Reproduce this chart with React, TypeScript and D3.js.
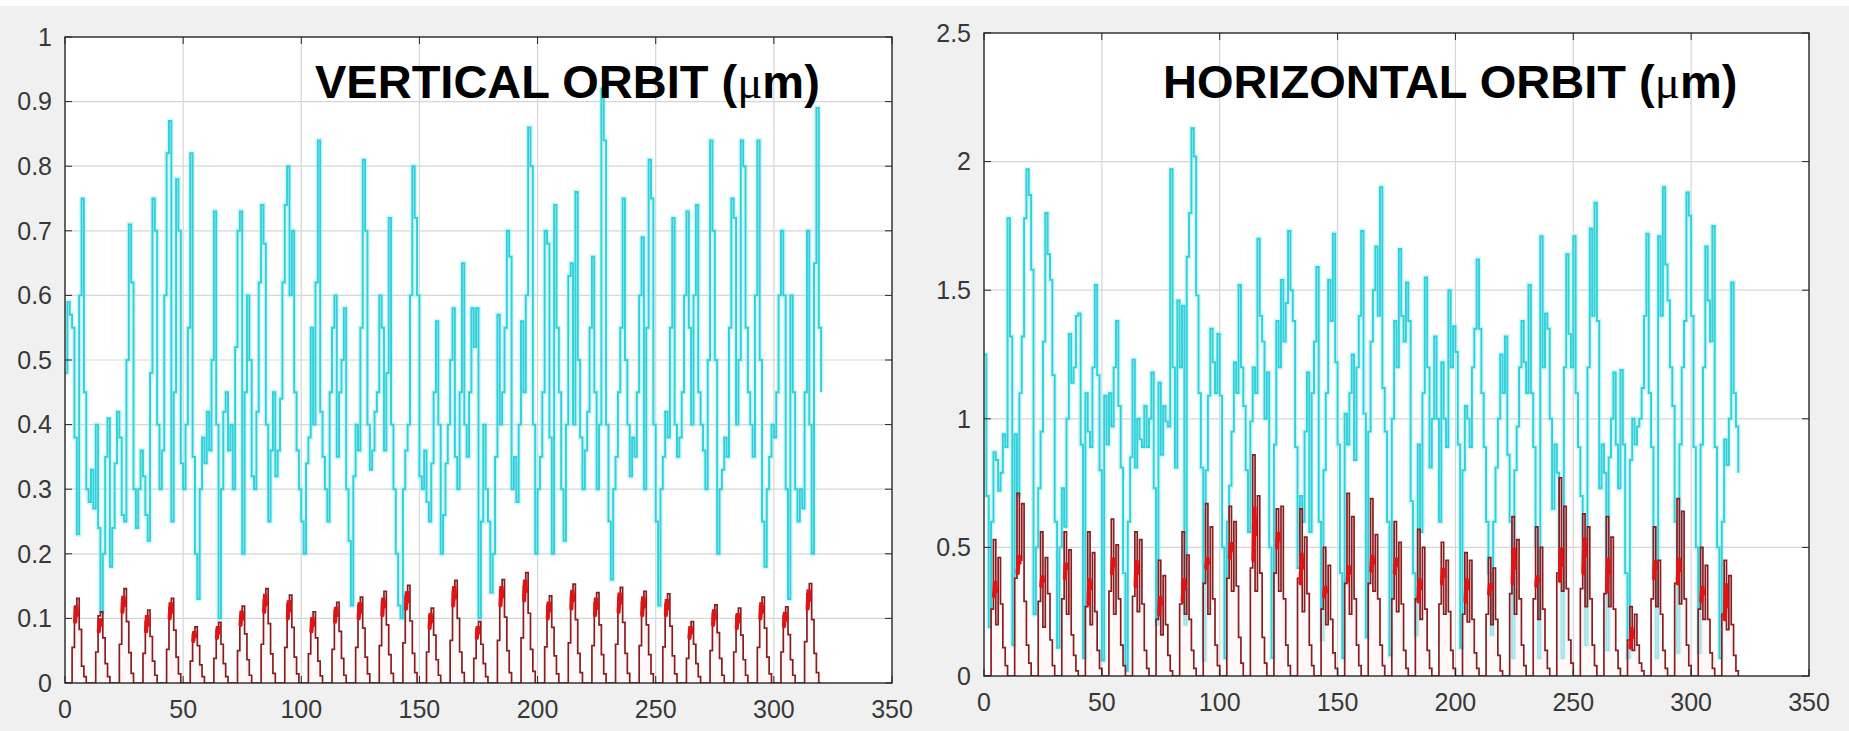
import * as React from "react"
import * as d3 from "d3"

// cyan trace, one value per sample (0..320)
const vCyan: number[] = [
  0.48, 0.59, 0.57, 0.55, 0.38, 0.23, 0.60, 0.75, 0.45, 0.30,
  0.28, 0.33, 0.27, 0.40, 0.24, 0.11, 0.20, 0.35, 0.41, 0.18,
  0.24, 0.34, 0.42, 0.38, 0.26, 0.25, 0.50, 0.71, 0.62, 0.30,
  0.24, 0.30, 0.36, 0.32, 0.26, 0.22, 0.48, 0.75, 0.70, 0.40,
  0.30, 0.36, 0.60, 0.82, 0.87, 0.25, 0.45, 0.78, 0.70, 0.34,
  0.30, 0.40, 0.55, 0.82, 0.35, 0.20, 0.13, 0.30, 0.38, 0.34,
  0.42, 0.36, 0.50, 0.73, 0.40, 0.10, 0.30, 0.42, 0.45, 0.36,
  0.40, 0.30, 0.52, 0.70, 0.73, 0.20, 0.45, 0.60, 0.50, 0.32,
  0.30, 0.42, 0.62, 0.74, 0.68, 0.40, 0.25, 0.36, 0.45, 0.32,
  0.36, 0.44, 0.62, 0.74, 0.80, 0.60, 0.70, 0.45, 0.36, 0.30,
  0.25, 0.20, 0.34, 0.38, 0.55, 0.40, 0.62, 0.84, 0.42, 0.35,
  0.30, 0.25, 0.45, 0.55, 0.60, 0.35, 0.45, 0.50, 0.58, 0.30,
  0.22, 0.12, 0.32, 0.40, 0.36, 0.55, 0.81, 0.70, 0.40, 0.33,
  0.36, 0.42, 0.45, 0.60, 0.55, 0.36, 0.48, 0.72, 0.40, 0.30,
  0.20, 0.12, 0.10, 0.30, 0.36, 0.40, 0.60, 0.80, 0.72, 0.60,
  0.32, 0.30, 0.36, 0.28, 0.25, 0.34, 0.45, 0.56, 0.40, 0.20,
  0.26, 0.34, 0.40, 0.50, 0.58, 0.35, 0.30, 0.45, 0.65, 0.40,
  0.35, 0.45, 0.58, 0.52, 0.58, 0.10, 0.25, 0.40, 0.30, 0.25,
  0.14, 0.20, 0.35, 0.57, 0.40, 0.45, 0.55, 0.70, 0.66, 0.30,
  0.35, 0.28, 0.40, 0.56, 0.45, 0.60, 0.86, 0.80, 0.40, 0.20,
  0.30, 0.35, 0.45, 0.70, 0.68, 0.38, 0.20, 0.74, 0.55, 0.45,
  0.30, 0.22, 0.40, 0.63, 0.65, 0.40, 0.76, 0.50, 0.38, 0.30,
  0.36, 0.42, 0.55, 0.66, 0.45, 0.30, 0.40, 0.92, 0.84, 0.40,
  0.25, 0.16, 0.30, 0.35, 0.45, 0.55, 0.75, 0.50, 0.40, 0.32,
  0.38, 0.35, 0.45, 0.60, 0.69, 0.30, 0.55, 0.81, 0.75, 0.40,
  0.25, 0.12, 0.30, 0.35, 0.42, 0.38, 0.55, 0.72, 0.40, 0.35,
  0.38, 0.45, 0.60, 0.73, 0.55, 0.40, 0.60, 0.74, 0.45, 0.40,
  0.36, 0.30, 0.50, 0.84, 0.70, 0.50, 0.20, 0.30, 0.33, 0.38,
  0.35, 0.55, 0.75, 0.72, 0.40, 0.50, 0.84, 0.80, 0.55, 0.45,
  0.40, 0.35, 0.60, 0.84, 0.50, 0.25, 0.18, 0.30, 0.35, 0.40,
  0.38, 0.45, 0.60, 0.70, 0.60, 0.30, 0.13, 0.60, 0.45, 0.30,
  0.25, 0.30, 0.27, 0.45, 0.70, 0.40, 0.20, 0.65, 0.89, 0.55,
  0.45,
]

const hCyan: number[] = [
  1.25, 0.70, 0.19, 0.60, 0.87, 0.84, 0.72, 0.79, 0.94, 0.89,
  1.78, 1.32, 0.12, 0.94, 0.70, 1.10, 1.32, 1.78, 1.97, 1.87,
  1.58, 0.24, 0.50, 0.73, 0.95, 1.30, 1.80, 1.64, 1.54, 1.17,
  0.60, 0.11, 0.50, 0.73, 0.58, 1.00, 1.33, 1.14, 1.20, 1.40,
  1.41, 0.90, 0.07, 1.10, 0.95, 0.89, 1.20, 1.52, 1.17, 0.80,
  0.06, 1.09, 0.90, 1.10, 0.97, 1.20, 1.38, 1.05, 0.81, 0.40,
  0.02, 0.60, 0.85, 1.23, 0.81, 1.00, 0.92, 0.89, 1.05, 0.89,
  1.00, 1.18, 0.73, 0.20, 1.14, 0.86, 1.05, 0.99, 0.97, 1.97,
  1.20, 0.81, 1.46, 1.20, 1.44, 0.20, 1.63, 1.80, 2.13, 2.02,
  1.48, 1.10, 0.81, 0.06, 0.80, 1.09, 1.35, 1.22, 1.10, 1.33,
  1.09, 0.50, 0.07, 0.60, 0.74, 0.95, 1.22, 1.10, 1.52, 1.20,
  1.05, 0.80, 0.56, 0.99, 1.20, 1.10, 1.70, 1.40, 1.30, 1.00,
  1.18, 0.50, 0.07, 0.90, 1.38, 1.20, 1.54, 1.30, 1.45, 1.73,
  1.50, 1.38, 0.89, 0.42, 0.70, 0.60, 0.95, 1.18, 0.56, 1.10,
  1.30, 1.59, 0.60, 0.14, 0.80, 1.10, 1.54, 1.38, 1.72, 1.22,
  0.90, 0.40, 0.07, 1.02, 0.90, 1.10, 1.25, 0.84, 1.20, 1.40,
  1.73, 1.02, 0.15, 0.95, 1.30, 1.50, 1.67, 1.40, 1.90, 1.12,
  0.95, 0.60, 0.08, 1.00, 1.38, 1.20, 1.66, 1.40, 1.30, 1.53,
  1.38, 0.68, 0.40, 0.16, 0.90, 0.56, 1.10, 1.55, 1.20, 0.81,
  1.00, 1.32, 1.00, 0.60, 1.22, 1.00, 0.89, 1.50, 1.20, 1.36,
  1.26, 0.90, 0.11, 0.80, 1.05, 1.00, 0.89, 1.20, 1.35, 1.62,
  1.35, 1.10, 0.89, 0.60, 0.40, 0.16, 0.60, 0.81, 1.00, 1.25,
  1.10, 1.32, 0.86, 0.60, 0.07, 0.80, 0.97, 1.20, 1.38, 1.22,
  1.10, 1.52, 1.10, 0.89, 0.50, 0.07, 1.71, 1.20, 1.41, 1.35,
  1.00, 0.65, 0.90, 0.79, 0.40, 0.07, 1.20, 1.64, 1.33, 1.20,
  1.71, 1.10, 0.89, 0.70, 0.40, 0.12, 1.20, 1.74, 1.40, 1.84,
  1.38, 0.73, 0.90, 0.79, 0.10, 0.85, 1.00, 1.18, 0.90, 0.73,
  1.19, 0.90, 0.40, 0.07, 0.84, 1.00, 0.90, 0.97, 1.00, 1.12,
  1.40, 1.72, 1.10, 0.89, 0.40, 0.07, 1.71, 1.40, 1.90, 1.60,
  1.46, 1.20, 1.05, 0.60, 0.09, 0.90, 1.20, 1.38, 1.88, 1.79,
  1.40, 0.89, 0.50, 0.09, 0.90, 1.20, 1.67, 1.46, 1.30, 1.75,
  0.89, 0.50, 0.07, 0.60, 0.92, 0.82, 1.00, 1.53, 1.10, 0.97,
  0.79,
]

// first sample of each red burst
const burstStarts: number[] = [
  3, 13, 23, 33, 43, 53, 63, 73, 83, 93, 103, 113, 123, 133, 143, 153,
  163, 173, 183, 193, 203, 213, 223, 233, 243, 253, 263, 273, 283, 293, 303, 313,
]

// dark red stairs, consecutive samples of each burst
const vRedBursts: number[][] = [
  [0.055, 0.118, 0.131, 0.083, 0.026, 0.010],
  [0.048, 0.104, 0.110, 0.070, 0.030, 0.010],
  [0.060, 0.130, 0.146, 0.095, 0.047, 0.015],
  [0.046, 0.096, 0.113, 0.072, 0.034, 0.012],
  [0.052, 0.116, 0.131, 0.082, 0.040, 0.014],
  [0.034, 0.076, 0.087, 0.058, 0.028, 0.010],
  [0.038, 0.082, 0.094, 0.060, 0.030, 0.010],
  [0.050, 0.104, 0.119, 0.076, 0.036, 0.012],
  [0.060, 0.128, 0.146, 0.092, 0.045, 0.015],
  [0.055, 0.122, 0.136, 0.086, 0.040, 0.014],
  [0.045, 0.098, 0.110, 0.070, 0.034, 0.011],
  [0.052, 0.112, 0.125, 0.080, 0.038, 0.012],
  [0.055, 0.120, 0.133, 0.085, 0.040, 0.014],
  [0.058, 0.126, 0.142, 0.090, 0.044, 0.015],
  [0.062, 0.134, 0.151, 0.096, 0.046, 0.016],
  [0.048, 0.104, 0.116, 0.074, 0.036, 0.012],
  [0.066, 0.142, 0.159, 0.100, 0.048, 0.016],
  [0.038, 0.084, 0.095, 0.060, 0.030, 0.010],
  [0.066, 0.144, 0.160, 0.102, 0.050, 0.016],
  [0.070, 0.150, 0.171, 0.108, 0.052, 0.018],
  [0.056, 0.120, 0.135, 0.086, 0.042, 0.014],
  [0.062, 0.136, 0.153, 0.098, 0.046, 0.016],
  [0.058, 0.124, 0.140, 0.090, 0.044, 0.014],
  [0.060, 0.132, 0.148, 0.094, 0.046, 0.015],
  [0.058, 0.126, 0.142, 0.090, 0.044, 0.014],
  [0.056, 0.122, 0.138, 0.088, 0.042, 0.014],
  [0.038, 0.084, 0.095, 0.060, 0.030, 0.010],
  [0.050, 0.108, 0.121, 0.078, 0.038, 0.012],
  [0.048, 0.104, 0.116, 0.074, 0.036, 0.012],
  [0.055, 0.118, 0.133, 0.085, 0.040, 0.014],
  [0.048, 0.105, 0.118, 0.075, 0.036, 0.012],
  [0.064, 0.138, 0.154, 0.098, 0.046, 0.016],
]

// bright red core of each burst
const vRedCore: number[][] = [
  [0.095, 0.120, 0.105], [0.080, 0.100, 0.090], [0.110, 0.135, 0.120], [0.080, 0.105, 0.090],
  [0.100, 0.125, 0.110], [0.065, 0.080, 0.072], [0.070, 0.088, 0.078], [0.090, 0.112, 0.100],
  [0.110, 0.138, 0.122], [0.100, 0.128, 0.112], [0.080, 0.102, 0.090], [0.095, 0.118, 0.105],
  [0.100, 0.125, 0.110], [0.105, 0.132, 0.118], [0.115, 0.142, 0.126], [0.085, 0.108, 0.095],
  [0.120, 0.150, 0.132], [0.070, 0.088, 0.078], [0.120, 0.150, 0.134], [0.128, 0.160, 0.142],
  [0.100, 0.126, 0.112], [0.115, 0.144, 0.128], [0.105, 0.132, 0.116], [0.110, 0.140, 0.124],
  [0.105, 0.134, 0.118], [0.105, 0.130, 0.115], [0.070, 0.088, 0.078], [0.090, 0.114, 0.100],
  [0.085, 0.108, 0.095], [0.100, 0.125, 0.110], [0.088, 0.110, 0.098], [0.115, 0.145, 0.128],
]

const hRedBursts: number[][] = [
  [0.26, 0.53, 0.20, 0.46, 0.28, 0.11, 0.04],
  [0.38, 0.71, 0.45, 0.67, 0.29, 0.12, 0.05],
  [0.29, 0.56, 0.19, 0.46, 0.32, 0.14, 0.04],
  [0.30, 0.56, 0.24, 0.49, 0.16, 0.08, 0.02],
  [0.27, 0.56, 0.20, 0.48, 0.25, 0.10, 0.03],
  [0.33, 0.61, 0.24, 0.51, 0.30, 0.12, 0.04],
  [0.31, 0.56, 0.25, 0.53, 0.28, 0.10, 0.03],
  [0.22, 0.45, 0.16, 0.39, 0.20, 0.08, 0.02],
  [0.28, 0.56, 0.24, 0.47, 0.22, 0.10, 0.03],
  [0.36, 0.67, 0.24, 0.58, 0.30, 0.12, 0.04],
  [0.38, 0.66, 0.33, 0.60, 0.35, 0.15, 0.05],
  [0.42, 0.86, 0.33, 0.70, 0.40, 0.15, 0.05],
  [0.40, 0.65, 0.33, 0.66, 0.30, 0.12, 0.04],
  [0.38, 0.65, 0.25, 0.54, 0.32, 0.12, 0.04],
  [0.26, 0.50, 0.20, 0.43, 0.22, 0.09, 0.03],
  [0.36, 0.71, 0.24, 0.62, 0.30, 0.12, 0.04],
  [0.36, 0.69, 0.33, 0.55, 0.30, 0.12, 0.04],
  [0.30, 0.60, 0.25, 0.52, 0.28, 0.10, 0.03],
  [0.30, 0.57, 0.22, 0.50, 0.26, 0.10, 0.03],
  [0.28, 0.52, 0.24, 0.45, 0.25, 0.10, 0.03],
  [0.24, 0.48, 0.21, 0.45, 0.22, 0.09, 0.03],
  [0.24, 0.46, 0.20, 0.42, 0.22, 0.08, 0.02],
  [0.32, 0.62, 0.24, 0.53, 0.30, 0.12, 0.04],
  [0.30, 0.58, 0.22, 0.50, 0.26, 0.10, 0.03],
  [0.40, 0.77, 0.33, 0.66, 0.34, 0.14, 0.05],
  [0.34, 0.63, 0.27, 0.58, 0.30, 0.12, 0.04],
  [0.32, 0.62, 0.27, 0.54, 0.26, 0.10, 0.03],
  [0.14, 0.27, 0.10, 0.24, 0.12, 0.05, 0.02],
  [0.30, 0.58, 0.27, 0.45, 0.24, 0.10, 0.03],
  [0.36, 0.69, 0.28, 0.64, 0.30, 0.12, 0.04],
  [0.26, 0.50, 0.22, 0.43, 0.22, 0.09, 0.03],
  [0.24, 0.45, 0.18, 0.39, 0.20, 0.08, 0.02],
]

const hRedCore: number[][] = [
  [0.31, 0.37, 0.33], [0.40, 0.47, 0.44], [0.35, 0.39, 0.37], [0.38, 0.44, 0.42],
  [0.28, 0.38, 0.34], [0.40, 0.46, 0.43], [0.35, 0.45, 0.40], [0.24, 0.31, 0.28],
  [0.29, 0.38, 0.34], [0.42, 0.46, 0.44], [0.46, 0.52, 0.49], [0.45, 0.66, 0.55],
  [0.50, 0.56, 0.53], [0.36, 0.48, 0.42], [0.31, 0.35, 0.33], [0.37, 0.43, 0.40],
  [0.41, 0.47, 0.44], [0.40, 0.46, 0.43], [0.29, 0.38, 0.34], [0.36, 0.42, 0.39],
  [0.29, 0.38, 0.34], [0.32, 0.36, 0.34], [0.36, 0.50, 0.42], [0.35, 0.39, 0.37],
  [0.37, 0.50, 0.43], [0.40, 0.54, 0.47], [0.33, 0.46, 0.40], [0.11, 0.19, 0.15],
  [0.38, 0.45, 0.42], [0.36, 0.46, 0.41], [0.29, 0.35, 0.32], [0.22, 0.36, 0.27],
]

const coreOffsets = [1.3, 1.7, 2.1]
const xTicks = [0, 50, 100, 150, 200, 250, 300, 350]
const vYTicks = [0, 0.1, 0.2, 0.3, 0.4, 0.5, 0.6, 0.7, 0.8, 0.9, 1]
const hYTicks = [0, 0.5, 1, 1.5, 2, 2.5]

interface PanelProps {
  readonly id: string
  readonly left: number
  readonly right: number
  readonly top: number
  readonly bottom: number
  readonly yMax: number
  readonly yTicks: number[]
  readonly cyan: number[]
  readonly redBursts: number[][]
  readonly redCore: number[][]
  readonly title: string
  readonly titleX: number
}

type Pt = [number, number]

class OrbitPanel extends React.Component<PanelProps, {}> {
  g: SVGGElement | null = null

  componentDidMount(): void {
    this.renderChart()
  }

  renderChart = (): void => {
    const p = this.props
    const g = d3.select(this.g)
    g.selectAll("*").remove()

    const x = d3.scaleLinear().domain([0, 350]).range([p.left, p.right])
    const y = d3.scaleLinear().domain([0, p.yMax]).range([p.bottom, p.top])

    g.append("rect")
      .attr("x", p.left).attr("y", p.top)
      .attr("width", p.right - p.left).attr("height", p.bottom - p.top)
      .attr("fill", "#fff")

    // grid
    g.selectAll(".gx").data(xTicks.slice(1, -1)).enter().append("line")
      .attr("x1", d => x(d)).attr("x2", d => x(d))
      .attr("y1", p.top).attr("y2", p.bottom)
      .attr("stroke", "#d6d6d6").attr("stroke-width", 1.2)
    g.selectAll(".gy").data(p.yTicks.slice(1, -1)).enter().append("line")
      .attr("x1", p.left).attr("x2", p.right)
      .attr("y1", d => y(d)).attr("y2", d => y(d))
      .attr("stroke", "#d6d6d6").attr("stroke-width", 1.2)

    g.append("clipPath").attr("id", "clip-" + p.id)
      .append("rect")
      .attr("x", p.left).attr("y", p.top)
      .attr("width", p.right - p.left).attr("height", p.bottom - p.top)

    const plot = g.append("g").attr("clip-path", "url(#clip-" + p.id + ")")

    const stairs = d3.line<Pt>()
      .x(d => x(d[0])).y(d => y(d[1]))
      .curve(d3.curveStepAfter)

    const cyanPts: Pt[] = p.cyan.map((v, i) => [i, v])
    plot.append("path").attr("d", stairs(cyanPts))
      .attr("fill", "none").attr("stroke", "#b5f1f5")
      .attr("stroke-width", 5).attr("stroke-opacity", 0.55)
    plot.append("path").attr("d", stairs(cyanPts))
      .attr("fill", "none").attr("stroke", "#2fd0da")
      .attr("stroke-width", 1.9)

    // red stairs built from bursts
    const red: number[] = p.cyan.map(() => 0)
    p.redBursts.forEach((b, k) => b.forEach((v, j) => { red[burstStarts[k] + j] = v }))
    const redPts: Pt[] = red.map((v, i) => [i, v])

    const area = d3.area<Pt>()
      .x(d => x(d[0])).y0(y(0)).y1(d => y(d[1]))
      .curve(d3.curveStepAfter)
    plot.append("path").attr("d", area(redPts))
      .attr("fill", "#fff2f2").attr("fill-opacity", 0.55)
    plot.append("path").attr("d", stairs(redPts))
      .attr("fill", "none").attr("stroke", "#8a1d20")
      .attr("stroke-width", 1.7)

    const coreLine = d3.line<Pt>().x(d => x(d[0])).y(d => y(d[1]))
    p.redCore.forEach((c, k) => {
      const pts: Pt[] = c.map((v, j) => [burstStarts[k] + coreOffsets[j], v])
      plot.append("path").attr("d", coreLine(pts))
        .attr("fill", "none").attr("stroke", "#e01414")
        .attr("stroke-width", 4.2).attr("stroke-linecap", "round")
    })

    // box
    g.append("rect")
      .attr("x", p.left).attr("y", p.top)
      .attr("width", p.right - p.left).attr("height", p.bottom - p.top)
      .attr("fill", "none").attr("stroke", "#262626").attr("stroke-width", 1.4)

    const tk = 7
    xTicks.forEach(t => {
      g.append("line").attr("x1", x(t)).attr("x2", x(t))
        .attr("y1", p.bottom).attr("y2", p.bottom - tk).attr("stroke", "#262626")
      g.append("line").attr("x1", x(t)).attr("x2", x(t))
        .attr("y1", p.top).attr("y2", p.top + tk).attr("stroke", "#262626")
    })
    p.yTicks.forEach(t => {
      g.append("line").attr("x1", p.left).attr("x2", p.left + tk)
        .attr("y1", y(t)).attr("y2", y(t)).attr("stroke", "#262626")
      g.append("line").attr("x1", p.right).attr("x2", p.right - tk)
        .attr("y1", y(t)).attr("y2", y(t)).attr("stroke", "#262626")
    })

    const fmt = (v: number) => String(+v.toFixed(1))
    g.selectAll(".xl").data(xTicks).enter().append("text")
      .attr("x", d => x(d)).attr("y", p.bottom + 35)
      .attr("text-anchor", "middle")
      .attr("font-family", "'Liberation Sans', Arial, sans-serif")
      .attr("font-size", 25).attr("fill", "#383838")
      .text(d => fmt(d))
    g.selectAll(".yl").data(p.yTicks).enter().append("text")
      .attr("x", p.left - 13).attr("y", d => y(d))
      .attr("dy", "0.35em")
      .attr("text-anchor", "end")
      .attr("font-family", "'Liberation Sans', Arial, sans-serif")
      .attr("font-size", 25).attr("fill", "#383838")
      .text(d => fmt(d))

    const title = g.append("text")
      .attr("x", p.titleX).attr("y", 98)
      .attr("font-family", "'Liberation Sans', Arial, sans-serif")
      .attr("font-weight", "bold").attr("font-size", 47).attr("fill", "#000")
    title.append("tspan").text(p.title + " (")
    title.append("tspan")
      .attr("font-family", "'Liberation Serif', 'DejaVu Serif', serif")
      .attr("font-weight", "normal")
      .text("\u03bc")
    title.append("tspan").text("m)")
  }

  render(): JSX.Element {
    return <g ref={(el) => { this.g = el }} />
  }
}

export default function App(): JSX.Element {
  return (
    <svg width={1849} height={731} style={{ position: "absolute", left: 0, top: 0, display: "block" }}>
      <rect x={0} y={0} width={1849} height={731} fill="#f0f0f0" />
      <rect x={0} y={0} width={1849} height={6} fill="#fff" />
      <OrbitPanel id="v" left={65} right={892} top={37} bottom={683} yMax={1} yTicks={vYTicks}
        cyan={vCyan} redBursts={vRedBursts} redCore={vRedCore}
        title="VERTICAL ORBIT" titleX={315} />
      <OrbitPanel id="h" left={984} right={1809} top={33} bottom={676} yMax={2.5} yTicks={hYTicks}
        cyan={hCyan} redBursts={hRedBursts} redCore={hRedCore}
        title="HORIZONTAL ORBIT" titleX={1163} />
    </svg>
  )
}
